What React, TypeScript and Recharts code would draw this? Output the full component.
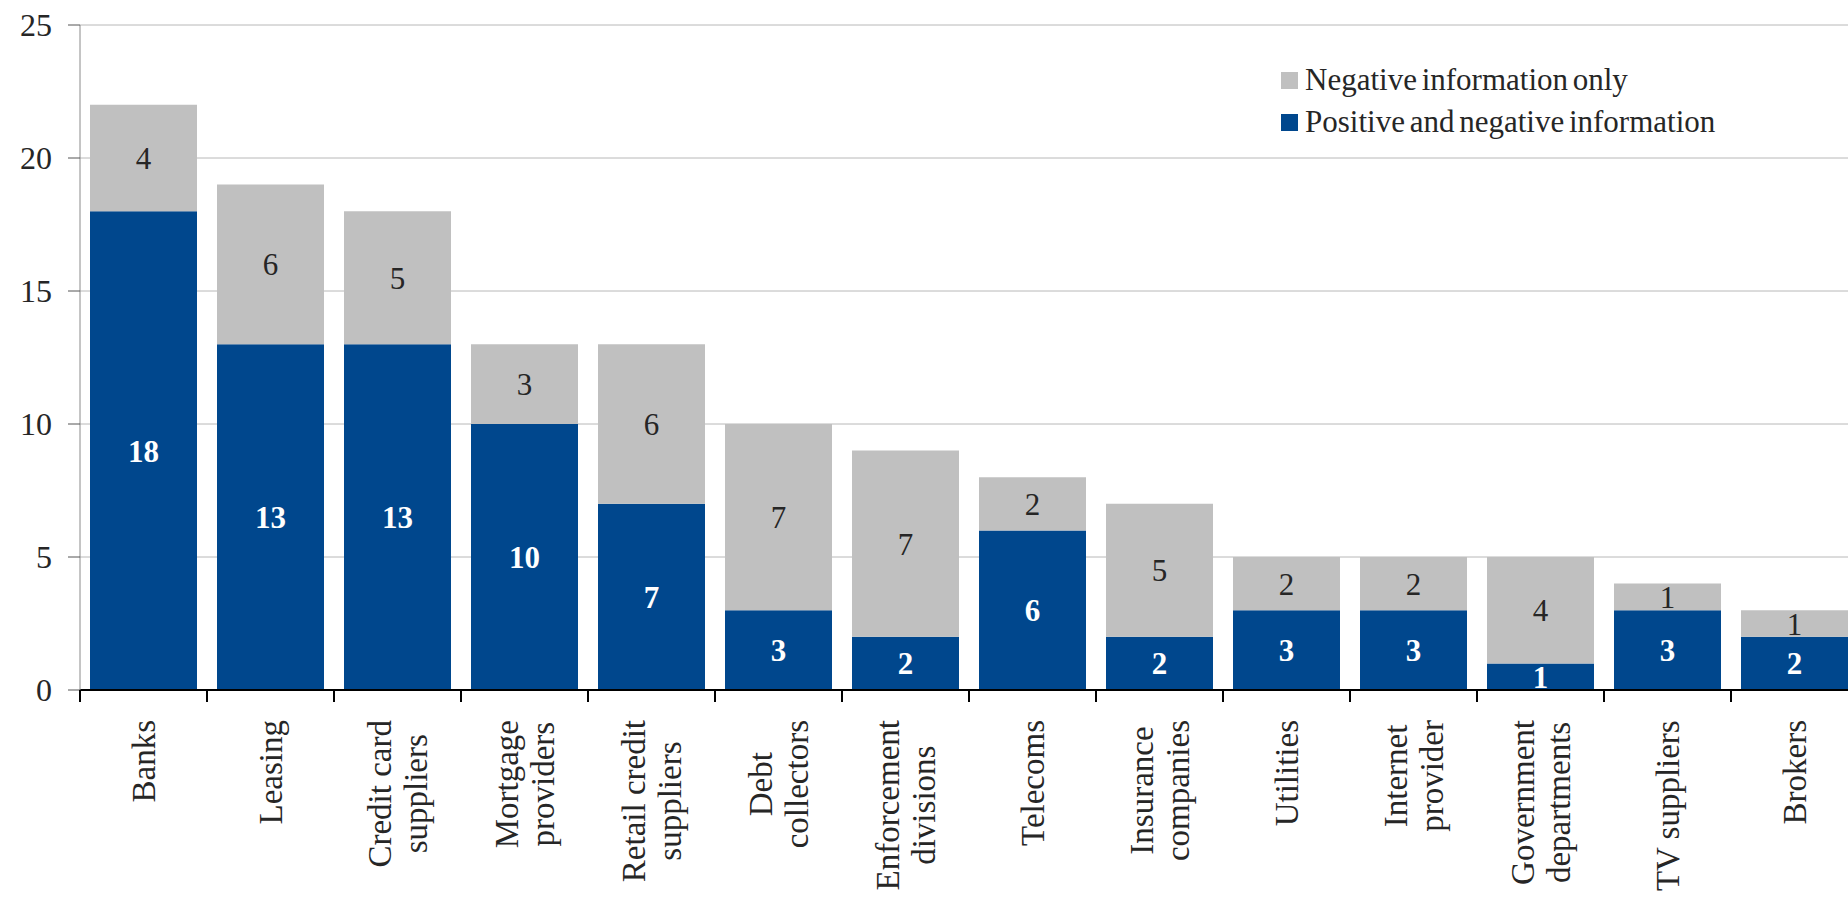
import { BarChart, Bar, XAxis, YAxis, CartesianGrid, LabelList } from 'recharts';

const categories = [
  'Banks',
  'Leasing',
  'Credit card\nsuppliers',
  'Mortgage\nproviders',
  'Retail credit\nsuppliers',
  'Debt\ncollectors',
  'Enforcement\ndivisions',
  'Telecoms',
  'Insurance\ncompanies',
  'Utilities',
  'Internet\nprovider',
  'Government\ndepartments',
  'TV suppliers',
  'Brokers',
];
const positiveAndNegative = [18, 13, 13, 10, 7, 3, 2, 6, 2, 3, 3, 1, 3, 2];
const negativeOnly = [4, 6, 5, 3, 6, 7, 7, 2, 5, 2, 2, 4, 1, 1];
const yTicks = [0, 5, 10, 15, 20, 25];
const seriesNames = ['Positive and negative information', 'Negative information only'];
const seriesColors = ['#00478d', '#c0c0c0'];

const FONT = '"Liberation Serif", "Times New Roman", serif';
const TEXT = '#262626';
const CAT_SIZE = 33;

const data = categories.map((name, i) => ({
  name,
  pos: positiveAndNegative[i],
  neg: negativeOnly[i],
}));

let ctx: CanvasRenderingContext2D | null = null;
function measure(s: string) {
  if (!ctx) ctx = document.createElement('canvas').getContext('2d');
  if (!ctx) return s.length * 15;
  ctx.font = `${CAT_SIZE}px ${FONT}`;
  return ctx.measureText(s).width;
}

// rotated, top-aligned labels with centred lines, plus a tick at the category boundary
function CategoryTick(props: any) {
  const { x, y, payload } = props;
  const lines = String(payload.value).split('\n');
  const maxW = Math.max(...lines.map(measure));
  const half = payload.offset ?? 0;
  const top = y + 30;
  return (
    <g>
      <line x1={x - half} x2={x - half} y1={y} y2={y + 12} stroke="#000" strokeWidth={2} />
      {lines.map((ln, i) => {
        const cx = x + (i - (lines.length - 1) / 2) * 36;
        return (
          <text
            key={i}
            transform={`translate(${cx},${top + maxW / 2}) rotate(-90)`}
            textAnchor="middle"
            dominantBaseline="central"
            fontSize={CAT_SIZE}
            fontFamily={FONT}
            fill={TEXT}
          >
            {ln}
          </text>
        );
      })}
    </g>
  );
}

function ChartLegend() {
  const order = [1, 0];
  return (
    <div style={{ position: 'absolute', left: 1281, top: 59, fontFamily: FONT, fontSize: 31, color: TEXT }}>
      {order.map((k) => (
        <div key={k} style={{ display: 'flex', alignItems: 'center', height: 42, whiteSpace: 'nowrap' }}>
          <span style={{ width: 17, height: 17, background: seriesColors[k], marginRight: 7, flex: 'none' }} />
          <span style={{ wordSpacing: -3 }}>{seriesNames[k]}</span>
        </div>
      ))}
    </div>
  );
}

export default function App() {
  return (
    <div style={{ position: 'fixed', left: 0, top: 0, width: 1848, height: 897, overflow: 'hidden', background: '#fff' }}>
      <BarChart
        width={1858}
        height={897}
        data={data}
        margin={{ top: 25, right: 0, bottom: 0, left: 0 }}
        barCategoryGap={10}
      >
        <CartesianGrid vertical={false} stroke="#b8b8b8" />
        <XAxis
          dataKey="name"
          height={207}
          interval={0}
          tickSize={0}
          tickMargin={0}
          tickLine={false}
          axisLine={{ stroke: '#000', strokeWidth: 2 }}
          tick={<CategoryTick />}
        />
        <YAxis
          width={80}
          domain={[0, 25]}
          ticks={yTicks}
          interval={0}
          tickSize={12}
          tickMargin={16}
          axisLine={{ stroke: '#8a8a8a' }}
          tickLine={{ stroke: '#555' }}
          tick={{ fontSize: 32, fontFamily: FONT, fill: TEXT }}
        />
        <Bar dataKey="pos" name={seriesNames[0]} stackId="a" fill={seriesColors[0]} isAnimationActive={false}>
          <LabelList dataKey="pos" position="center" fill="#fff" fontSize={31} fontFamily={FONT} fontWeight="bold" />
        </Bar>
        <Bar dataKey="neg" name={seriesNames[1]} stackId="a" fill={seriesColors[1]} isAnimationActive={false}>
          <LabelList dataKey="neg" position="center" fill={TEXT} fontSize={31} fontFamily={FONT} />
        </Bar>
      </BarChart>
      <ChartLegend />
    </div>
  );
}
